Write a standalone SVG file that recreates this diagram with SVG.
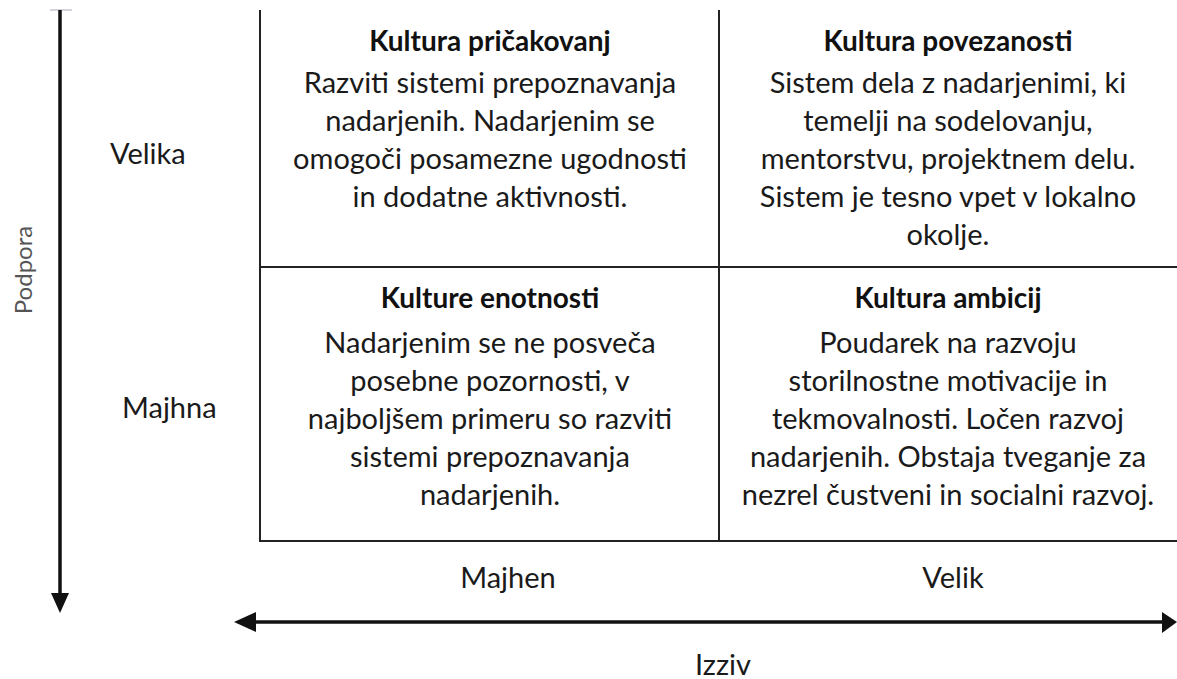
<svg xmlns="http://www.w3.org/2000/svg" width="1177" height="679" viewBox="0 0 1177 679">
<style>
.t{font-family:Lato,"Liberation Sans",sans-serif;font-size:29px;fill:#1a1a1a;text-anchor:middle}
.h{font-weight:bold;font-size:28px;fill:#111}
.l{text-anchor:start}
.g{stroke:#222;stroke-width:2;fill:none}
.ax{stroke:#111;stroke-width:3.5;fill:none}
</style>
<rect width="1177" height="679" fill="#fff"/>
<g id="grid">
<path class="g" d="M260,10 V541 H1177 M719,10 V541 M260,267 H1177"/>
</g>
<g id="connectors">
<line x1="50" y1="10" x2="72" y2="10" stroke="#aab" stroke-width="1"/>
<path class="ax" d="M60,10 V596"/>
<path d="M51,593 L69,593 L60,613 z" fill="#111"/>
<path class="ax" d="M250,622 H1165"/>
<path d="M234,622 L256,612 L256,632 z" fill="#111"/>
<path d="M1177,622 L1162,612 L1162,633 z" fill="#111"/>
</g>
<g id="axis-labels">
<text class="t" transform="translate(32,270) rotate(-90)" style="fill:#555;font-size:24px">Podpora</text>
<text class="t l" x="110" y="164">Velika</text>
<text class="t l" x="122" y="418">Majhna</text>
<text class="t" x="508" y="588">Majhen</text>
<text class="t" x="953" y="588">Velik</text>
<text class="t" x="723" y="675">Izziv</text>
</g>
<g id="q-pricakovanj">
<text class="t h" x="490" y="51">Kultura pričakovanj</text>
<text class="t" x="490" y="93">Razviti sistemi prepoznavanja</text>
<text class="t" x="490" y="131">nadarjenih. Nadarjenim se</text>
<text class="t" x="490" y="169">omogoči posamezne ugodnosti</text>
<text class="t" x="490" y="207">in dodatne aktivnosti.</text>
</g>
<g id="q-povezanosti">
<text class="t h" x="948" y="51">Kultura povezanosti</text>
<text class="t" x="948" y="93">Sistem dela z nadarjenimi, ki</text>
<text class="t" x="948" y="131">temelji na sodelovanju,</text>
<text class="t" x="948" y="169">mentorstvu, projektnem delu.</text>
<text class="t" x="948" y="207">Sistem je tesno vpet v lokalno</text>
<text class="t" x="948" y="245">okolje.</text>
</g>
<g id="q-enotnosti">
<text class="t h" x="490" y="308">Kulture enotnosti</text>
<text class="t" x="490" y="353">Nadarjenim se ne posveča</text>
<text class="t" x="490" y="391">posebne pozornosti, v</text>
<text class="t" x="490" y="429">najboljšem primeru so razviti</text>
<text class="t" x="490" y="467">sistemi prepoznavanja</text>
<text class="t" x="490" y="505">nadarjenih.</text>
</g>
<g id="q-ambicij">
<text class="t h" x="948" y="308">Kultura ambicij</text>
<text class="t" x="948" y="353">Poudarek na razvoju</text>
<text class="t" x="948" y="391">storilnostne motivacije in</text>
<text class="t" x="948" y="429">tekmovalnosti. Ločen razvoj</text>
<text class="t" x="948" y="467">nadarjenih. Obstaja tveganje za</text>
<text class="t" x="948" y="505">nezrel čustveni in socialni razvoj.</text>
</g>
</svg>
